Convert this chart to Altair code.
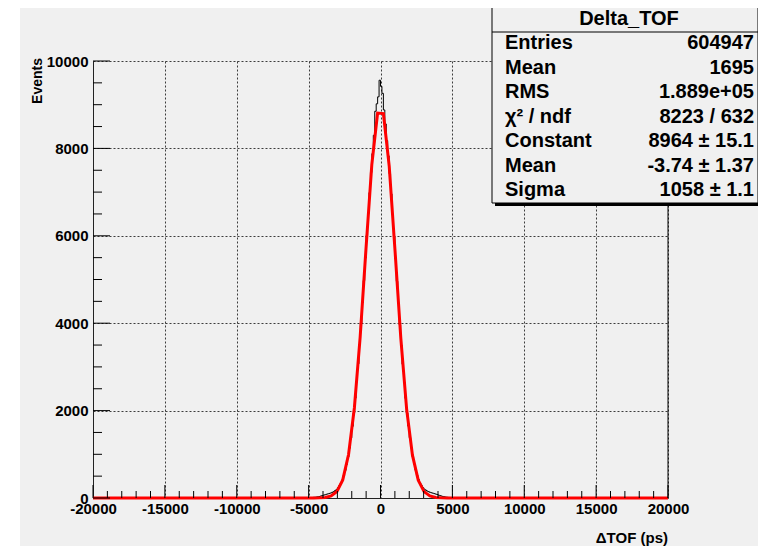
import altair as alt
import pandas as pd

# ---------------- data ----------------
axis_range = [-20000, 20000]
y_range = [0, 10000]

# black histogram: counts in 100 ps bins from -5000 to +5000 (zero elsewhere)
hist_start = -5000
hist_width = 100
hist_counts = [
    8, 10, 12, 15, 18, 22, 28, 35, 45, 55,
    65, 75, 85, 95, 105, 115, 130, 145, 170, 195,
    235, 285, 340, 415, 515, 630, 770, 940, 1140, 1375,
    1640, 1945, 2285, 2660, 3070, 3510, 3980, 4470, 4975, 5490,
    6005, 6510, 6990, 7450, 7880, 8300, 8850, 9020, 9180, 9560,
    9420, 9260, 8880, 8560, 8180, 7830, 7420, 6960, 6480, 5980,
    5470, 4960, 4455, 3965, 3500, 3060, 2650, 2280, 1945, 1645,
    1380, 1145, 945, 775, 635, 520, 425, 345, 290, 240,
    205, 180, 160, 145, 130, 120, 110, 100, 90, 80,
    65, 55, 45, 35, 28, 22, 17, 13, 10, 8,
]

# red gaussian fit curve, as drawn (polyline samples)
fit_x = [-20000, -4646, -4242, -3838, -3434, -3030, -2626, -2222, -1818, -1414,
         -1010, -606, -202, 202, 606, 1010, 1414, 1818, 2222, 2626,
         3030, 3434, 3838, 4242, 4646, 20000]
fit_y = [0, 1, 3, 12, 47, 150, 415, 995, 2060, 3687,
         5702, 7623, 8808, 8796, 7593, 5664, 3652, 2035, 981, 408,
         147, 46, 12, 3, 1, 0]

x_major = [-20000, -15000, -10000, -5000, 0, 5000, 10000, 15000, 20000]
x_minor = [v for v in range(-20000, 20001, 1000) if v % 5000 != 0]
y_major = [0, 2000, 4000, 6000, 8000, 10000]
y_minor = [v for v in range(0, 10001, 500) if v % 2000 != 0]

x_title = "\u0394TOF (ps)"
y_title = "Events"

stats_title = "Delta_TOF"
stats_labels = ["Entries", "Mean", "RMS", "\u03c7\u00b2 / ndf", "Constant", "Mean", "Sigma"]
stats_values = ["604947", "1695", "1.889e+05", "8223 / 632",
                "8964 \u00b1 15.1", "-3.74 \u00b1 1.37", "1058 \u00b1 1.1"]

# ---------------- tables ----------------
hx = [axis_range[0]] + [hist_start + i * hist_width for i in range(len(hist_counts))]
hx += [hist_start + len(hist_counts) * hist_width, axis_range[1]]
hy = [0] + hist_counts + [0, 0]
hist_df = pd.DataFrame({"x": hx, "y": hy})
fit_df = pd.DataFrame({"x": fit_x, "y": fit_y})

W, H = 575, 437
BG = "#f0f0f0"
FONT = "Liberation Sans"

xs = alt.Scale(domain=axis_range, nice=False, zero=False)
ys = alt.Scale(domain=y_range, nice=False, zero=False)

x_axis = alt.Axis(values=x_major, title=None, grid=True, gridDash=[2, 2], gridColor="#000",
                  gridOpacity=0.75, ticks=False, domainColor="#222", labelFlush=False,
                  labelOverlap=False, labelExpr="'' + datum.value", labelFont=FONT,
                  labelFontSize=15, labelFontWeight="bold", labelColor="#000", labelPadding=3)
y_axis = alt.Axis(values=y_major, title=None, grid=True, gridDash=[2, 2], gridColor="#000",
                  gridOpacity=0.75, ticks=False, domainColor="#222", labelFlush=False,
                  labelOverlap=False, labelExpr="'' + datum.value", labelFont=FONT,
                  labelFontSize=15, labelFontWeight="bold", labelColor="#000", labelPadding=5)


def X(field="x"):
    return alt.X(f"{field}:Q", scale=xs, axis=x_axis)


def Y(field="y"):
    return alt.Y(f"{field}:Q", scale=ys, axis=y_axis)


dummy = pd.DataFrame({"a": [0]})

white_strip = alt.Chart(dummy).mark_rect(color="white").encode(
    x=alt.value(-85), x2=alt.value(-73), y=alt.value(-53), y2=alt.value(485))

hist = alt.Chart(hist_df).mark_line(interpolate="step-after", color="#000", strokeWidth=1).encode(
    x=X(), y=Y())

fit = alt.Chart(fit_df).mark_line(color="#ff0000", strokeWidth=3).encode(x=X(), y=Y())

xmaj = alt.Chart(pd.DataFrame({"x": x_major})).mark_rule(color="#000", strokeWidth=1).encode(
    x=X(), y=alt.value(H), y2=alt.value(H - 13))
xmin = alt.Chart(pd.DataFrame({"x": x_minor})).mark_rule(color="#000", strokeWidth=1).encode(
    x=X(), y=alt.value(H), y2=alt.value(H - 7))
ymaj = alt.Chart(pd.DataFrame({"y": y_major})).mark_rule(color="#000", strokeWidth=1).encode(
    y=Y(), x=alt.value(0), x2=alt.value(17))
ymin = alt.Chart(pd.DataFrame({"y": y_minor})).mark_rule(color="#000", strokeWidth=1).encode(
    y=Y(), x=alt.value(0), x2=alt.value(9))

right_frame = alt.Chart(dummy).mark_rule(color="#000", strokeWidth=1).encode(
    x=alt.value(W), y=alt.value(0), y2=alt.value(H))

ylab = alt.Chart(dummy).mark_text(text=y_title, font=FONT, fontSize=14, fontWeight="bold",
                                  angle=270, align="right", baseline="middle", color="#000").encode(
    x=alt.value(-55), y=alt.value(-3))
xlab = alt.Chart(dummy).mark_text(text=x_title, font=FONT, fontSize=15, fontWeight="bold",
                                  align="right", baseline="alphabetic", color="#000").encode(
    x=alt.value(W), y=alt.value(482))

# stats box
bx0, bx1, by0, by1 = 399, 665, -54, 142
shadow = alt.Chart(dummy).mark_rect(color="#000").encode(
    x=alt.value(bx0 + 3), x2=alt.value(bx1 + 3), y=alt.value(by0 + 3), y2=alt.value(by1 + 3))
box = alt.Chart(dummy).mark_rect(fill=BG, stroke="#000", strokeWidth=1).encode(
    x=alt.value(bx0), x2=alt.value(bx1), y=alt.value(by0), y2=alt.value(by1))
sep = alt.Chart(dummy).mark_rule(color="#000", strokeWidth=1).encode(
    x=alt.value(bx0), x2=alt.value(bx1), y=alt.value(-29))
stitle = alt.Chart(dummy).mark_text(text=stats_title, font=FONT, fontSize=20, fontWeight="bold",
                                    align="center", baseline="middle", color="#000").encode(
    x=alt.value(536), y=alt.value(-42))

layers = [white_strip, hist, fit, xmaj, xmin, ymaj, ymin, right_frame, ylab, xlab,
          shadow, box, sep, stitle]
for i, (lab, val) in enumerate(zip(stats_labels, stats_values)):
    yy = -18 + i * 24.5
    layers.append(alt.Chart(dummy).mark_text(text=lab, font=FONT, fontSize=20, fontWeight="bold",
                                             align="left", baseline="middle", color="#000").encode(
        x=alt.value(412), y=alt.value(yy)))
    layers.append(alt.Chart(dummy).mark_text(text=val, font=FONT, fontSize=20, fontWeight="bold",
                                             align="right", baseline="middle", color="#000").encode(
        x=alt.value(661), y=alt.value(yy)))

chart = alt.layer(*layers).properties(
    width=W, height=H, background=BG,
    padding={"left": 85, "top": 53, "right": 90, "bottom": 48},
    autosize=alt.AutoSizeParams(type="none"),
).configure_view(stroke=None)

chart.save("out.html", embed_options={"renderer": "svg", "actions": False})
